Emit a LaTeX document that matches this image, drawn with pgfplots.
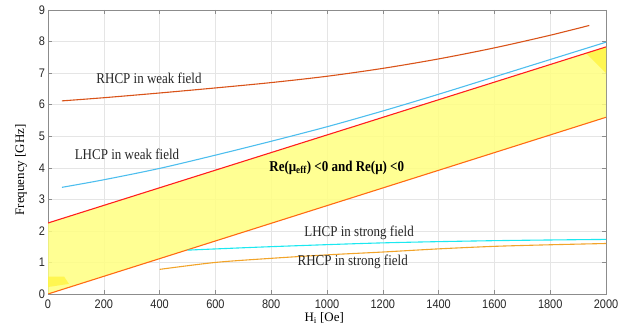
\documentclass[border=0pt]{standalone}
\usepackage{fontspec}
\setmainfont{Liberation Serif}
\newfontfamily\tickfont{Liberation Sans}[FakeStretch=0.88]
\newfontfamily\lblfont{Liberation Serif}[FakeStretch=0.87]
\usepackage{pgfplots}
\pgfplotsset{compat=1.18}
\definecolor{rhcpw}{HTML}{D95319}
\definecolor{lhcpw}{HTML}{4DBEEE}
\definecolor{rhcps}{HTML}{F2A42A}
\definecolor{lhcps}{HTML}{1CE8F0}
\definecolor{redb}{HTML}{FF1E1E}
\definecolor{orab}{HTML}{FF6A13}
\definecolor{fillY}{HTML}{FFFF80}
\begin{document}
\begin{tikzpicture}
\begin{axis}[
  scale only axis, width=558bp, height=284bp,
  xmin=0, xmax=2000, ymin=0, ymax=9,
  xtick={0,200,...,2000}, ytick={0,1,...,9},
  grid=major, grid style={black!10, line width=0.5pt},
  axis line style={black!45},
  tick style={black!45, line width=0.5pt},
  major tick length=4bp, tick align=inside,
  ticklabel style={font=\tickfont\fontsize{12.5}{12.5}\selectfont, text=black!85},
  /pgf/number format/assume math mode=true,
  /pgf/number format/1000 sep={},
  scaled x ticks=false,
  xticklabel style={yshift=-2.5bp},
  yticklabel style={xshift=0.5bp},
  xlabel={H\textsubscript{i} [Oe]},
  ylabel={Frequency [GHz]},
  label style={font=\fontsize{13}{13}\selectfont},
  xlabel style={at={(axis description cs:0.495,-0.097)}, anchor=base},
  ylabel style={at={(axis description cs:-0.0484,0.437)}, anchor=center},
  clip=true,
]
% yellow region
\addplot[draw=none, fill=fillY, fill opacity=0.85] coordinates {(0,0) (2000,5.6) (2000,7.83) (0,2.25)} -- cycle;
\addplot[draw=none, fill=yellow!75, fill opacity=0.8] coordinates {(0,0.22) (75,0.32) (58,0.55) (0,0.55)} -- cycle;
\addplot[draw=none, fill=yellow!75, fill opacity=0.8] coordinates {(1930,7.62) (2000,7.82) (2000,7.0)} -- cycle;
% boundaries
\addplot[orab, line width=1.1pt] coordinates {(0,0) (2000,5.6)};
\addplot[redb, line width=1.1pt] coordinates {(0,2.25) (2000,7.83)};
% RHCP weak
\addplot[rhcpw, line width=1.1pt, smooth] coordinates {
(50,6.12) (200,6.22) (400,6.37) (600,6.53) (800,6.70) (1000,6.90)
(1200,7.15) (1400,7.45) (1600,7.80) (1800,8.20) (1940,8.51)};
% LHCP weak
\addplot[lhcpw, line width=1.1pt, smooth] coordinates {
(50,3.38) (200,3.62) (400,3.98) (600,4.40) (800,4.84) (1000,5.30)
(1200,5.80) (1400,6.33) (1600,6.88) (1800,7.43) (2000,7.98)};
% LHCP strong
\addplot[lhcps, line width=1.1pt, smooth] coordinates {
(500,1.39) (800,1.50) (1200,1.62) (1600,1.69) (2000,1.73)};
% RHCP strong
\addplot[rhcps, line width=1.1pt, smooth] coordinates {
(400,0.78) (600,1.00) (800,1.13) (1000,1.24) (1200,1.33) (1400,1.43)
(1600,1.51) (1800,1.56) (2000,1.60)};
% labels
\node[font=\lblfont\fontsize{15}{15}\selectfont, text=black!85] at (axis cs:362,6.83) {RHCP in weak field};
\node[font=\lblfont\fontsize{15}{15}\selectfont, text=black!85] at (axis cs:283,4.43) {LHCP in weak field};
\node[font=\lblfont\fontsize{15}{15}\selectfont, text=black!85] at (axis cs:1115,1.93) {LHCP in strong field};
\node[font=\lblfont\fontsize{15}{15}\selectfont, text=black!85] at (axis cs:1092,1.01) {RHCP in strong field};
\node[font=\lblfont\bfseries\fontsize{15}{15}\selectfont, text=black] at (axis cs:1035,4.01) {Re(μ\textsubscript{eff}) <0 and Re(μ) <0};
\end{axis}
\pgfresetboundingbox
\path ([shift={(-48bp,-38bp)}]current axis.south west) rectangle ([shift={(26bp,10bp)}]current axis.north east);
\end{tikzpicture}
\end{document}
